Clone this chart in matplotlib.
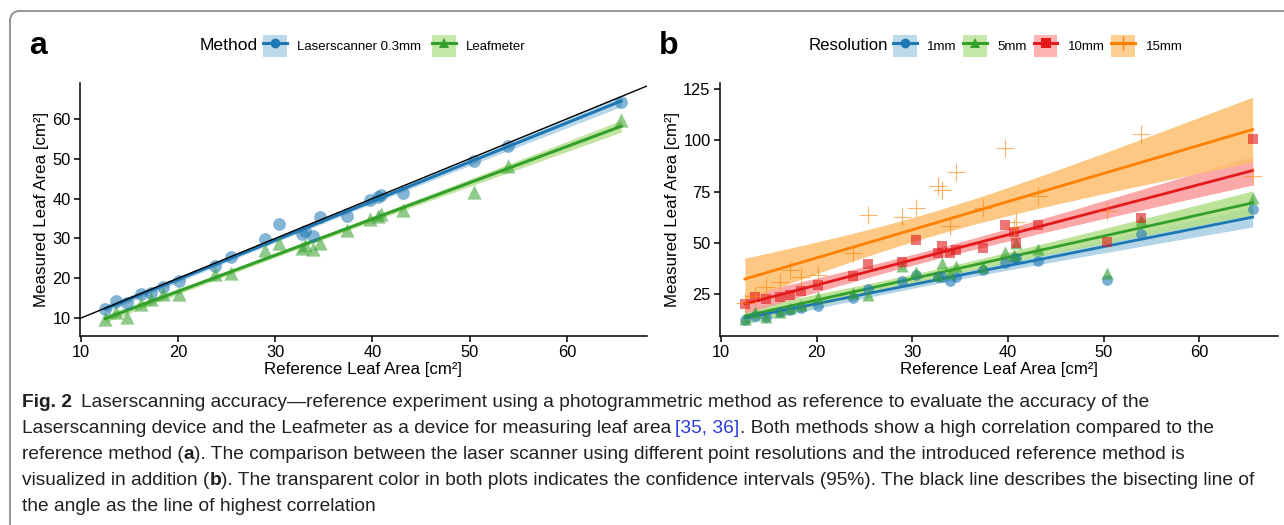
import numpy as np
import matplotlib
matplotlib.use("Agg")
import matplotlib.pyplot as plt
from matplotlib.patches import Patch, FancyBboxPatch
from matplotlib.lines import Line2D
from matplotlib.transforms import IdentityTransform

# ---------------- data ----------------
ref_area = [12.5, 13.6, 14.7, 16.2, 17.2, 18.4, 20.1, 23.8, 25.4, 28.9, 30.4, 32.7,
            33.1, 33.9, 34.6, 37.4, 39.7, 40.6, 40.9, 43.1, 50.4, 53.9, 65.6]
laser_03 = [12.3, 14.3, 13.7, 16.0, 16.4, 17.7, 19.3, 23.1, 25.4, 29.9, 33.5, 31.0,
            31.8, 30.7, 35.4, 35.6, 39.6, 40.3, 41.0, 41.4, 49.5, 53.3, 64.3]
leafmeter = [9.75, 11.4, 10.2, 13.5, 14.75, 16.0, 16.0, 21.0, 21.2, 27.1, 28.75, 27.7,
             28.3, 27.25, 28.9, 32.0, 34.75, 35.5, 36.0, 37.25, 41.7, 48.1, 59.75]
res_1mm = [12.3, 14.5, 13.8, 16.0, 17.0, 18.2, 19.2, 22.9, 27.4, 31.4, 34.3, 33.5,
           33.1, 31.5, 33.5, 36.7, 40.0, 42.4, 42.4, 41.3, 31.8, 54.3, 66.3]
res_5mm = [12.7, 16.0, 13.8, 16.4, 18.0, 19.8, 23.3, 25.4, 24.5, 38.9, 35.6, 34.3,
           40.2, 35.1, 38.5, 38.3, 45.6, 44.0, 49.7, 46.8, 35.1, 61.1, 71.7]
res_10mm = [20.1, 23.3, 22.4, 23.5, 24.5, 26.3, 29.6, 33.8, 39.8, 40.5, 51.5, 44.8,
            48.5, 44.8, 46.7, 47.3, 58.7, 55.4, 49.7, 58.7, 50.5, 61.9, 100.5]
res_15mm = [20.6, 24.0, 28.6, 31.0, 36.7, 33.4, 34.3, 45.1, 63.5, 62.4, 66.8, 77.7,
            75.7, 58.3, 84.4, 67.1, 96.1, 57.5, 60.3, 72.8, 65.5, 103.0, 82.7]

method_labels = ["Laserscanner 0.3mm", "Leafmeter"]
res_labels = ["1mm", "5mm", "10mm", "15mm"]
x_ticks = [10, 20, 30, 40, 50, 60]
y_ticks_a = [10, 20, 30, 40, 50, 60]
y_ticks_b = [25, 50, 75, 100, 125]

# ---------------- style ----------------
FONT = ["Liberation Sans", "DejaVu Sans"]
plt.rcParams["font.family"] = FONT
W, H = 1284, 525

dark = {"blue": "#1F78B4", "green": "#33A02C", "red": "#E31A1C", "orange": "#FF7F00"}
light = {"blue": "#A6CEE3", "green": "#B2DF8A", "red": "#FB9A99", "orange": "#FDBF6F"}


def lm_band(x, y, n=100):
    x = np.asarray(x, float)
    y = np.asarray(y, float)
    b, a = np.polyfit(x, y, 1)
    xs = np.linspace(x.min(), x.max(), n)
    yh = a + b * xs
    res = y - (a + b * x)
    k = len(x)
    s = np.sqrt(np.sum(res ** 2) / (k - 2))
    se = s * np.sqrt(1.0 / k + (xs - x.mean()) ** 2 / np.sum((x - x.mean()) ** 2))
    t = 2.0796  # t(0.975, df=21)
    return xs, yh, yh - t * se, yh + t * se


fig = plt.figure(figsize=(W / 100, H / 100), dpi=100)

# outer rounded frame
frame = FancyBboxPatch((10, -30), 1320, H - 11 + 30, boxstyle="round,pad=0,rounding_size=10",
                       transform=IdentityTransform(), facecolor="none", edgecolor="#8c8c8c",
                       linewidth=1.3)
fig.patches.append(frame)


def fx(px):
    return px / W


def fy(py):
    return 1 - py / H


ax_a = fig.add_axes([fx(79.5), fy(336), (647 - 79.5) / W, (336 - 83) / H])
ax_b = fig.add_axes([fx(719.6), fy(336), (1278 - 719.6) / W, (336 - 83) / H])


def style_axes(ax, yt, ylim):
    ax.set_xlim(9.85, 68.25)
    ax.set_ylim(*ylim)
    ax.set_xticks(x_ticks)
    ax.set_yticks(yt)
    for s in ["top", "right"]:
        ax.spines[s].set_visible(False)
    for s in ["left", "bottom"]:
        ax.spines[s].set_linewidth(1.1)
        ax.spines[s].set_color("black")
    ax.tick_params(direction="out", length=4, width=1.1, labelsize=11.8, colors="black", pad=2.5)
    ax.set_xlabel("Reference Leaf Area [cm²]", fontsize=12.2, labelpad=1.5)
    ax.set_ylabel("Measured Leaf Area [cm²]", fontsize=12.2, labelpad=2)


# ---------------- panel a ----------------
style_axes(ax_a, y_ticks_a, (5.5, 69))
ax_a.axline((0, 0), slope=1, color="black", lw=1.0, zorder=5)
series_a = [(laser_03, "blue", "o", 85), (leafmeter, "green", "^", 105)]
for vals, c, m, s in series_a:
    xs, yh, lo, hi = lm_band(ref_area, vals)
    ax_a.fill_between(xs, lo, hi, color=light[c], alpha=0.8, lw=0, zorder=2)
    ax_a.plot(xs, yh, color=dark[c], lw=2.2, zorder=3)
    ax_a.scatter(ref_area, vals, s=s, marker=m, color=dark[c], alpha=0.55, lw=0, zorder=4)

# ---------------- panel b ----------------
style_axes(ax_b, y_ticks_b, (4.5, 128))
series_b = [(res_1mm, "blue", "o", 60), (res_5mm, "green", "^", 75),
            (res_10mm, "red", "s", 55), (res_15mm, "orange", "+", 150)]
for i, (vals, c, m, s) in enumerate(series_b):
    xs, yh, lo, hi = lm_band(ref_area, vals)
    ax_b.fill_between(xs, lo, hi, color=light[c], alpha=0.85, lw=0, zorder=2 + i * 0.1)
    ax_b.plot(xs, yh, color=dark[c], lw=2.0, zorder=3 + i * 0.1)
    if m == "+":
        ax_b.scatter(ref_area, vals, s=s, marker=m, color=dark[c], alpha=0.6, lw=0.8, zorder=4 + i * 0.1)
    else:
        ax_b.scatter(ref_area, vals, s=s, marker=m, color=dark[c], alpha=0.6, lw=0, zorder=4 + i * 0.1)

# ---------------- legends ----------------
leg_kw = dict(frameon=False, borderpad=0, borderaxespad=0, fontsize=9.5, handlelength=1.8,
              handleheight=2.1, handletextpad=0.8, numpoints=1)


def key(c, m):
    ms = 7 if m != "+" else 10
    return (Patch(facecolor=light[c], alpha=0.75, edgecolor="none"),
            Line2D([], [], color=dark[c], lw=2.2, marker=m, markersize=ms,
                   markeredgewidth=1.0 if m == "+" else 0))


fig.text(fx(258), fy(46), "Method", ha="right", va="center", fontsize=12.6)
fig.legend([key(c, m) for _, c, m, _ in series_a], method_labels, loc="center left",
           bbox_to_anchor=(fx(263), fy(46)), ncol=2, columnspacing=0.8, **leg_kw)

fig.text(fx(888), fy(46), "Resolution", ha="right", va="center", fontsize=12.1)
fig.legend([key(c, m) for _, c, m, _ in series_b], res_labels, loc="center left",
           bbox_to_anchor=(fx(893), fy(46)), ncol=4, columnspacing=0.5, **leg_kw)

fig.text(fx(29), fy(46), "a", fontsize=23, fontweight="bold", va="center", ha="left")
fig.text(fx(659), fy(46), "b", fontsize=23, fontweight="bold", va="center", ha="left")

# ---------------- caption ----------------
CAP = ["Liberation Sans Narrow", "DejaVu Sans Condensed", "Liberation Sans", "DejaVu Sans"]
cap_size = 13.8
cap_col = "#231f20"
caption = [
    [("Fig. 2", "bold", cap_col, 0),
     ("Laserscanning accuracy—reference experiment using a photogrammetric method as reference to evaluate the accuracy of the", "normal", cap_col, 9)],
    [("Laserscanning device and the Leafmeter as a device for measuring leaf area", "normal", cap_col, 0),
     ("[35, 36]", "normal", "#2a3bd9", 4.2),
     (". Both methods show a high correlation compared to the", "normal", cap_col, 0)],
    [("reference method (", "normal", cap_col, 0), ("a", "bold", cap_col, 0),
     ("). The comparison between the laser scanner using different point resolutions and the introduced reference method is", "normal", cap_col, 0)],
    [("visualized in addition (", "normal", cap_col, 0), ("b", "bold", cap_col, 0),
     ("). The transparent color in both plots indicates the confidence intervals (95%). The black line describes the bisecting line of", "normal", cap_col, 0)],
    [("the angle as the line of highest correlation", "normal", cap_col, 0)],
]
baselines = [407, 433, 459, 485, 511]
for line, yb in zip(caption, baselines):
    prev = None
    for txt, wt, col, gap in line:
        if prev is None:
            prev = fig.text(fx(22), fy(yb), txt, fontsize=cap_size, fontweight=wt, color=col,
                            family=CAP, ha="left", va="baseline")
        else:
            prev = ax_a.annotate(
                txt, xy=(1, fy(yb)), xycoords=(prev, "figure fraction"),
                xytext=(gap, 0), textcoords="offset pixels", fontsize=cap_size,
                fontweight=wt, color=col, family=CAP, ha="left", va="baseline",
                annotation_clip=False)

fig.savefig("out.png", dpi=100)
